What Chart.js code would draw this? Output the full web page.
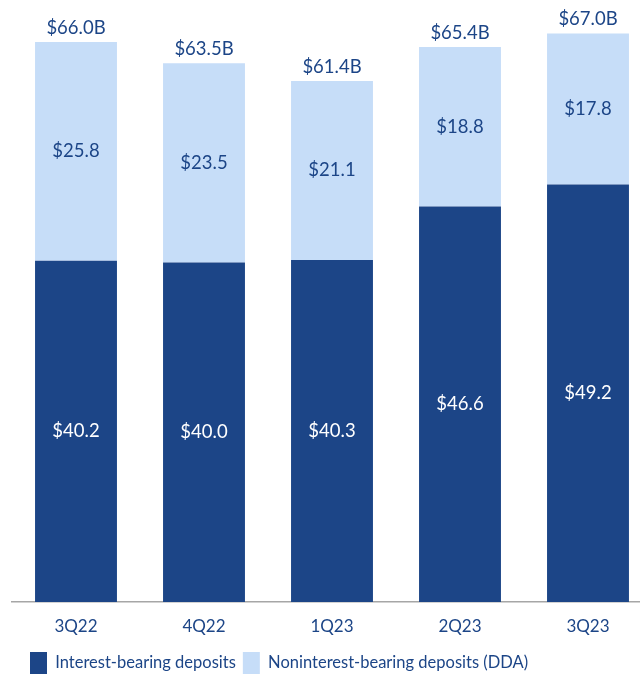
<!DOCTYPE html>
<html>
<head>
<meta charset="utf-8">
<script src="https://cdn.jsdelivr.net/npm/chart.js@4"></script>
<style>
  html, body { margin: 0; padding: 0; background: #fff; overflow: hidden; }
  #wrap { width: 652px; height: 689px; }
</style>
</head>
<body>
<div id="wrap"><canvas id="chart-canvas" width="652" height="689"></canvas></div>
<script>
const quarters = ['3Q22', '4Q22', '1Q23', '2Q23', '3Q23'];
const interestBearing = [40.2, 40.0, 40.3, 46.6, 49.2];
const nonInterestBearing = [25.8, 23.5, 21.1, 18.8, 17.8];
const totals = ['$66.0B', '$63.5B', '$61.4B', '$65.4B', '$67.0B'];

const DARK = '#1c4587';
const LIGHT = '#c6ddf8';
const FONT = 'Lato, "Open Sans", sans-serif';

// draws segment values inside bars and totals on top
const barLabels = {
  id: 'barLabels',
  afterLayout(chart) {
    // nudge legend right a bit, like the original
    chart.legend.left += 11;
  },
  afterDatasetsDraw(chart) {
    const ctx = chart.ctx;
    ctx.save();
    ctx.font = '18.5px ' + FONT;
    ctx.textAlign = 'center';
    ctx.textBaseline = 'middle';
    chart.data.datasets.forEach((ds, i) => {
      const meta = chart.getDatasetMeta(i);
      meta.data.forEach((bar, j) => {
        ctx.fillStyle = i === 0 ? '#ffffff' : DARK;
        ctx.fillText('$' + ds.data[j].toFixed(1), bar.x, (bar.y + bar.base) / 2);
      });
    });
    const top = chart.getDatasetMeta(1);
    ctx.fillStyle = DARK;
    top.data.forEach((bar, j) => {
      ctx.fillText(totals[j], bar.x, bar.y - 14);
    });
    ctx.restore();
  }
};

new Chart(document.getElementById('chart-canvas'), {
  type: 'bar',
  plugins: [barLabels],
  data: {
    labels: quarters,
    datasets: [
      {
        label: 'Interest-bearing deposits',
        data: interestBearing,
        backgroundColor: DARK,
        barPercentage: 0.64,
        categoryPercentage: 1,
      },
      {
        label: 'Noninterest-bearing deposits (DDA)',
        data: nonInterestBearing,
        backgroundColor: LIGHT,
        barPercentage: 0.64,
        categoryPercentage: 1,
      }
    ]
  },
  options: {
    responsive: false,
    animation: false,
    layout: { padding: { left: 12, right: 0, top: 8, bottom: 5 } },
    plugins: {
      tooltip: { enabled: false },
      legend: {
        position: 'bottom',
        align: 'start',
        labels: {
          color: DARK,
          font: { family: FONT, size: 16.5 },
          boxWidth: 17,
          boxHeight: 22,
          padding: 7,
        }
      }
    },
    scales: {
      x: {
        stacked: true,
        grid: { display: false },
        border: { display: true, color: '#a6a6a6', width: 1.5 },
        ticks: { color: DARK, font: { family: FONT, size: 17 }, padding: 6 },
        afterFit: function(axis) {
          axis.height = 43;
        }
      },
      y: {
        stacked: true,
        display: false,
        min: 0,
        max: 70,
      }
    }
  }
});
</script>
</body>
</html>
